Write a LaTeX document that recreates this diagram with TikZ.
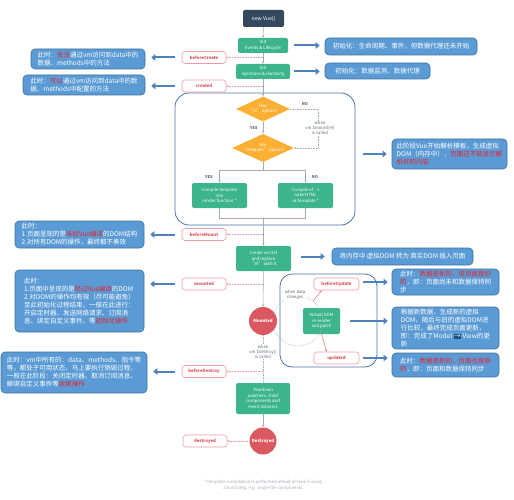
\documentclass[tikz,border=0pt]{standalone}
\usepackage{fontspec}
\setmainfont{Noto Sans CJK SC}
\usetikzlibrary{shapes.geometric,arrows.meta}
\definecolor{annblue}{HTML}{5B9BD5}
\definecolor{annborder}{HTML}{41719C}
\definecolor{annred}{HTML}{E8222B}
\definecolor{arrowblue}{HTML}{4F81BD}
\definecolor{vgreen}{HTML}{3DB58A}
\definecolor{vnavy}{HTML}{34495E}
\definecolor{hookborder}{HTML}{EE9CA2}
\definecolor{hookred}{HTML}{DC4F5A}
\definecolor{dorange}{HTML}{FBB034}
\definecolor{cred}{HTML}{DB5860}
\definecolor{regblue}{HTML}{4D74A6}
\definecolor{lgrey}{HTML}{A3ACB6}
\definecolor{tgrey}{HTML}{5F6B78}
\definecolor{iconblue}{HTML}{1F4E79}
\newcommand\myfs[2]{\fontsize{#1}{#2}\selectfont}
\newcommand\rdt[1]{\textcolor{annred}{#1}}
\begin{document}
\begin{tikzpicture}[x=1pt,y=-1pt,
  ann/.style={rectangle,rounded corners=4pt,fill=annblue,draw=annborder,line width=0.6pt,text=white,
    font=\myfs{6.5}{8},align=left,inner sep=2pt},
  hook/.style={rectangle,rounded corners=3pt,draw=hookborder,fill=white,text=hookred,line width=0.6pt,
    font=\bfseries\myfs{4.3}{5},minimum width=44pt,minimum height=12pt,inner sep=1pt},
  gbox/.style={rectangle,rounded corners=2pt,fill=vgreen,text=white,font=\myfs{4.3}{5.6},align=center,inner sep=1pt},
  dia/.style={diamond,fill=dorange,text=white,font=\myfs{4.2}{5},align=center,inner sep=0pt,aspect=2.2,
    minimum width=54pt,minimum height=25pt},
  circ/.style={circle,fill=cred,text=white,font=\bfseries\myfs{4.3}{5},inner sep=0pt},
  region/.style={rectangle,draw=regblue,line width=0.8pt,rounded corners=14pt},
  gline/.style={draw=lgrey,line width=0.5pt,-{Stealth[length=2.5pt,width=2pt]}},
  gplain/.style={draw=lgrey,line width=0.5pt},
  gdot/.style={draw=lgrey,line width=0.6pt,densely dotted},
  hookline/.style={draw=hookborder,line width=0.6pt,densely dotted,-{Stealth[length=2.5pt,width=2.2pt]}},
  redarr/.style={draw=hookred!80,line width=0.5pt,-{Stealth[length=2.5pt,width=2.2pt]}},
  barrow/.style={draw=arrowblue,line width=2pt,-{Triangle[length=4pt,width=6.5pt]}},
  small/.style={text=tgrey,font=\myfs{4.2}{5},align=center,inner sep=0.5pt},
  yn/.style={text=tgrey,font=\bfseries\myfs{4}{5},inner sep=0pt}
]
\path[use as bounding box,fill=white] (0,0) rectangle (514,500);

% regions
\node[region,minimum width=180pt,minimum height=132pt] (reg1) at (265,159) {};
\node[region,rounded corners=12pt,minimum width=97pt,minimum height=93pt] (reg2) at (328.5,320.5) {};

% main flow nodes
\node[rectangle,rounded corners=2pt,fill=vnavy,text=white,font=\myfs{5.2}{6},minimum width=41pt,minimum height=17pt,inner sep=1pt] (nv) at (263.5,18.5) {new Vue()};
\node[gbox,minimum width=50pt,minimum height=15pt] (ev) at (263,45.5) {Init\\Events \& Lifecycle};
\node[gbox,minimum width=54pt,minimum height=15pt] (inj) at (263,71.5) {Init\\injections \& reactivity};
\node[dia] (d1) at (263,109) {Has\\``el'' option?};
\node[dia] (d2) at (263,148) {Has\\``template'' option?};
\node[gbox,minimum width=55pt,minimum height=25pt] (c1) at (219.5,195.5) {Compile template\\into\\render function *};
\node[gbox,minimum width=55pt,minimum height=25pt] (c2) at (305.5,195.5) {Compile el's\\outerHTML\\as template *};
\node[gbox,minimum width=55pt,minimum height=25pt] (cr) at (263.5,258.5) {Create vm.\$el\\and replace\\``el'' with it};
\node[gbox,minimum width=37pt,minimum height=26pt] (vd) at (321.5,321) {Virtual DOM\\re-render\\and patch};
\node[gbox,minimum width=54pt,minimum height=31pt] (td) at (263,398.5) {Teardown\\watchers, child\\components and\\event listeners};

% update cycle
\coordinate (cyc) at (298,321);
\draw[gdot] (cyc) circle[radius=25pt];
\node[circ,minimum size=28pt] (mo) at (263,321) {Mounted};
\node[circ,minimum size=27pt] (de) at (263,441) {Destroyed};
\node[small,fill=white] (wdc) at (295,295) {when data\\changes};

% hooks
\node[hook] (bc) at (204,57.5) {beforeCreate};
\node[hook] (ct) at (204,86) {created};
\node[hook] (bm) at (204,234.5) {beforeMount};
\node[hook] (mt) at (204,284) {mounted};
\node[hook,minimum width=45pt] (bu) at (336.5,284) {beforeUpdate};
\node[hook,minimum width=45pt] (up) at (336.5,358) {updated};
\node[hook] (bd) at (204,371.5) {beforeDestroy};
\node[hook] (ds) at (205,441) {destroyed};

% grey connectors
\draw[gline] (nv) -- (ev);
\draw[gline] (ev) -- (inj);
\draw[gline] (inj) -- (d1);
\draw[gline] (d1) -- (d2);
\node[yn] (yes1) at (254,128) {YES};
\coordinate (m1) at (318,109);
\coordinate (m2) at (318,148);
\draw[gdot] (d1.east) -- (m1) -- (m2);
\draw[gdot,-{Stealth[length=2.5pt,width=2pt]}] (m2) -- (d2.east);
\node[yn] (no1) at (305,104) {NO};
\node[small,fill=white] (wm) at (320,128) {when\\vm.\$mount(el)\\is called};
\coordinate (s1) at (263,170);
\coordinate (sl) at (219.5,170);
\coordinate (sr) at (305.5,170);
\draw[gplain] (d2.south) -- (s1);
\draw[gline] (s1) -- (sl) -- (c1.north);
\draw[gline] (s1) -- (sr) -- (c2.north);
\node[yn] (yes2) at (209,177) {YES};
\node[yn] (no2) at (315,177) {NO};
\coordinate (j1) at (219.5,218);
\coordinate (j2) at (305.5,218);
\coordinate (j0) at (263.5,218);
\draw[gplain] (c1.south) -- (j1) -- (j2) -- (c2.south);
\draw[gline] (j0) -- (cr.north);
\draw[gline] (cr) -- (mo);
\draw[gdot] (mo.south) -- (td.north);
\node[small,fill=white] (wd) at (263,352) {when\\vm.\$destroy()\\is called};
\draw[gline] (td) -- (de);

% hook lines
\draw[hookline] (ev.south |- bc) -- (bc.east);
\draw[hookline] (inj.south |- ct) -- (ct.east);
\draw[hookline] (d2.south |- bm) -- (bm.east);
\draw[hookline] (d2.south |- mt) -- (mt.east);
\draw[hookline] (td.north |- bd) -- (bd.east);
\draw[hookline] (de.west) -- (ds.east);
\coordinate (arcpt) at (313,301);
\draw[redarr] (arcpt) -- ([xshift=8pt]bu.south west);
\draw[redarr] (vd.south) -- ([xshift=13pt]up.north west);

% annotations
\node[ann,minimum width=114pt,minimum height=20pt] (a1) at (88,59) {此时：\rdt{无法}通过vm访问到data中的\\数据、methods中的方法};
\node[ann,minimum width=122pt,minimum height=20pt] (a2) at (84,85) {此时：\rdt{可以}通过vm访问到data中的数\\据、methods中配置的方法};
\node[ann,minimum width=152pt,minimum height=17pt] (r1) at (401,46.5) {初始化：生命周期、事件，但数据代理还未开始};
\node[ann,minimum width=105pt,minimum height=16pt] (r2) at (377.5,71) {初始化：数据监测、数据代理};
\node[ann,minimum width=115pt,minimum height=30pt] (r3) at (449.5,154) {此阶段Vue开始解析模板，生成虚拟\\DOM（内存中），\rdt{页面还不能显示解}\\\rdt{析好的内容}};
\node[ann,minimum width=129pt,minimum height=27pt] (a3) at (79.5,234.5) {此时：\\1.页面呈现的是\rdt{未经Vue编译}的DOM结构\\2.对所有DOM的操作，最终都不奏效};
\node[ann,minimum width=141pt,minimum height=17pt] (r4) at (402.5,256.5) {将内存中 虚拟DOM 转为 真实DOM 插入页面};
\node[ann,minimum width=129pt,minimum height=62pt] (a4) at (79.5,301) {此时：\\1.页面中呈现的是\rdt{经过Vue编译}的DOM\\2.对DOM的操作均有效（尽可能避免）\\至此初始化过程结束，一般在此进行：\\开启定时器、发送网络请求、订阅消\\息、绑定自定义事件、等\rdt{初始化操作}};
\node[ann,minimum width=107pt,minimum height=26pt] (r5) at (445.5,282) {此时：\rdt{数据是新的，但页面是旧}\\\rdt{的}，即：页面尚未和数据保持同\\步};
\node[ann,minimum width=107pt,minimum height=40pt] (r6) at (445.5,328) {根据新数据，生成新的虚拟\\DOM，随后与旧的虚拟DOM进\\行比较，最终完成页面更新，\\即：完成了Model {\setlength\fboxsep{0.6pt}\colorbox{iconblue}{\textcolor{white}{→}}} View的更\\新};
\node[ann,minimum width=107pt,minimum height=24pt] (r7) at (445.5,365) {此时：\rdt{数据是新的，页面也是新}\\\rdt{的}，即：页面和数据保持同步};
\node[ann,minimum width=146pt,minimum height=41pt] (a5) at (74,372.5) {此时：vm中所有的：data、methods、指令等\\等，都处于可用状态，马上要执行销毁过程，\\一般在此阶段：关闭定时器、取消订阅消息、\\解绑自定义事件等\rdt{收尾操作}};

% blue arrows
\draw[barrow,shorten <=7pt,shorten >=6pt] (bc.west) -- (a1.east |- bc);
\draw[barrow,shorten <=7pt,shorten >=6pt] (ct.west) -- (a2.east |- ct);
\draw[barrow,shorten <=7pt,shorten >=6pt] (bm.west) -- (a3.east |- bm);
\draw[barrow,shorten <=7pt,shorten >=6pt] (mt.west) -- (a4.east |- mt);
\draw[barrow,shorten <=7pt,shorten >=6pt] (bd.west) -- (a5.east |- bd);
\draw[barrow,shorten <=6pt,shorten >=5pt] (ev.east) -- (r1.west |- ev);
\draw[barrow,shorten <=4pt,shorten >=5pt] (inj.east) -- (r2.west |- inj);
\draw[barrow,shorten <=8pt,shorten >=5pt] (reg1.east |- r3) -- (r3.west);
\draw[barrow,shorten <=10pt,shorten >=7pt] (cr.east |- r4) -- (r4.west);
\draw[barrow,shorten <=4pt,shorten >=4pt] (bu.east |- r5) -- (r5.west);
\draw[barrow,shorten <=10pt,shorten >=4pt] (vd.east) -- (r6.west |- vd);
\draw[barrow,shorten <=4pt,shorten >=4pt] (up.east) -- (r7.west |- up);

% footnote
\node[small,text=lgrey,font=\myfs{4.3}{6}] (fn) at (263,485) {* template compilation is performed ahead-of-time if using\\a build step, e.g. single-file components};
\end{tikzpicture}
\end{document}
